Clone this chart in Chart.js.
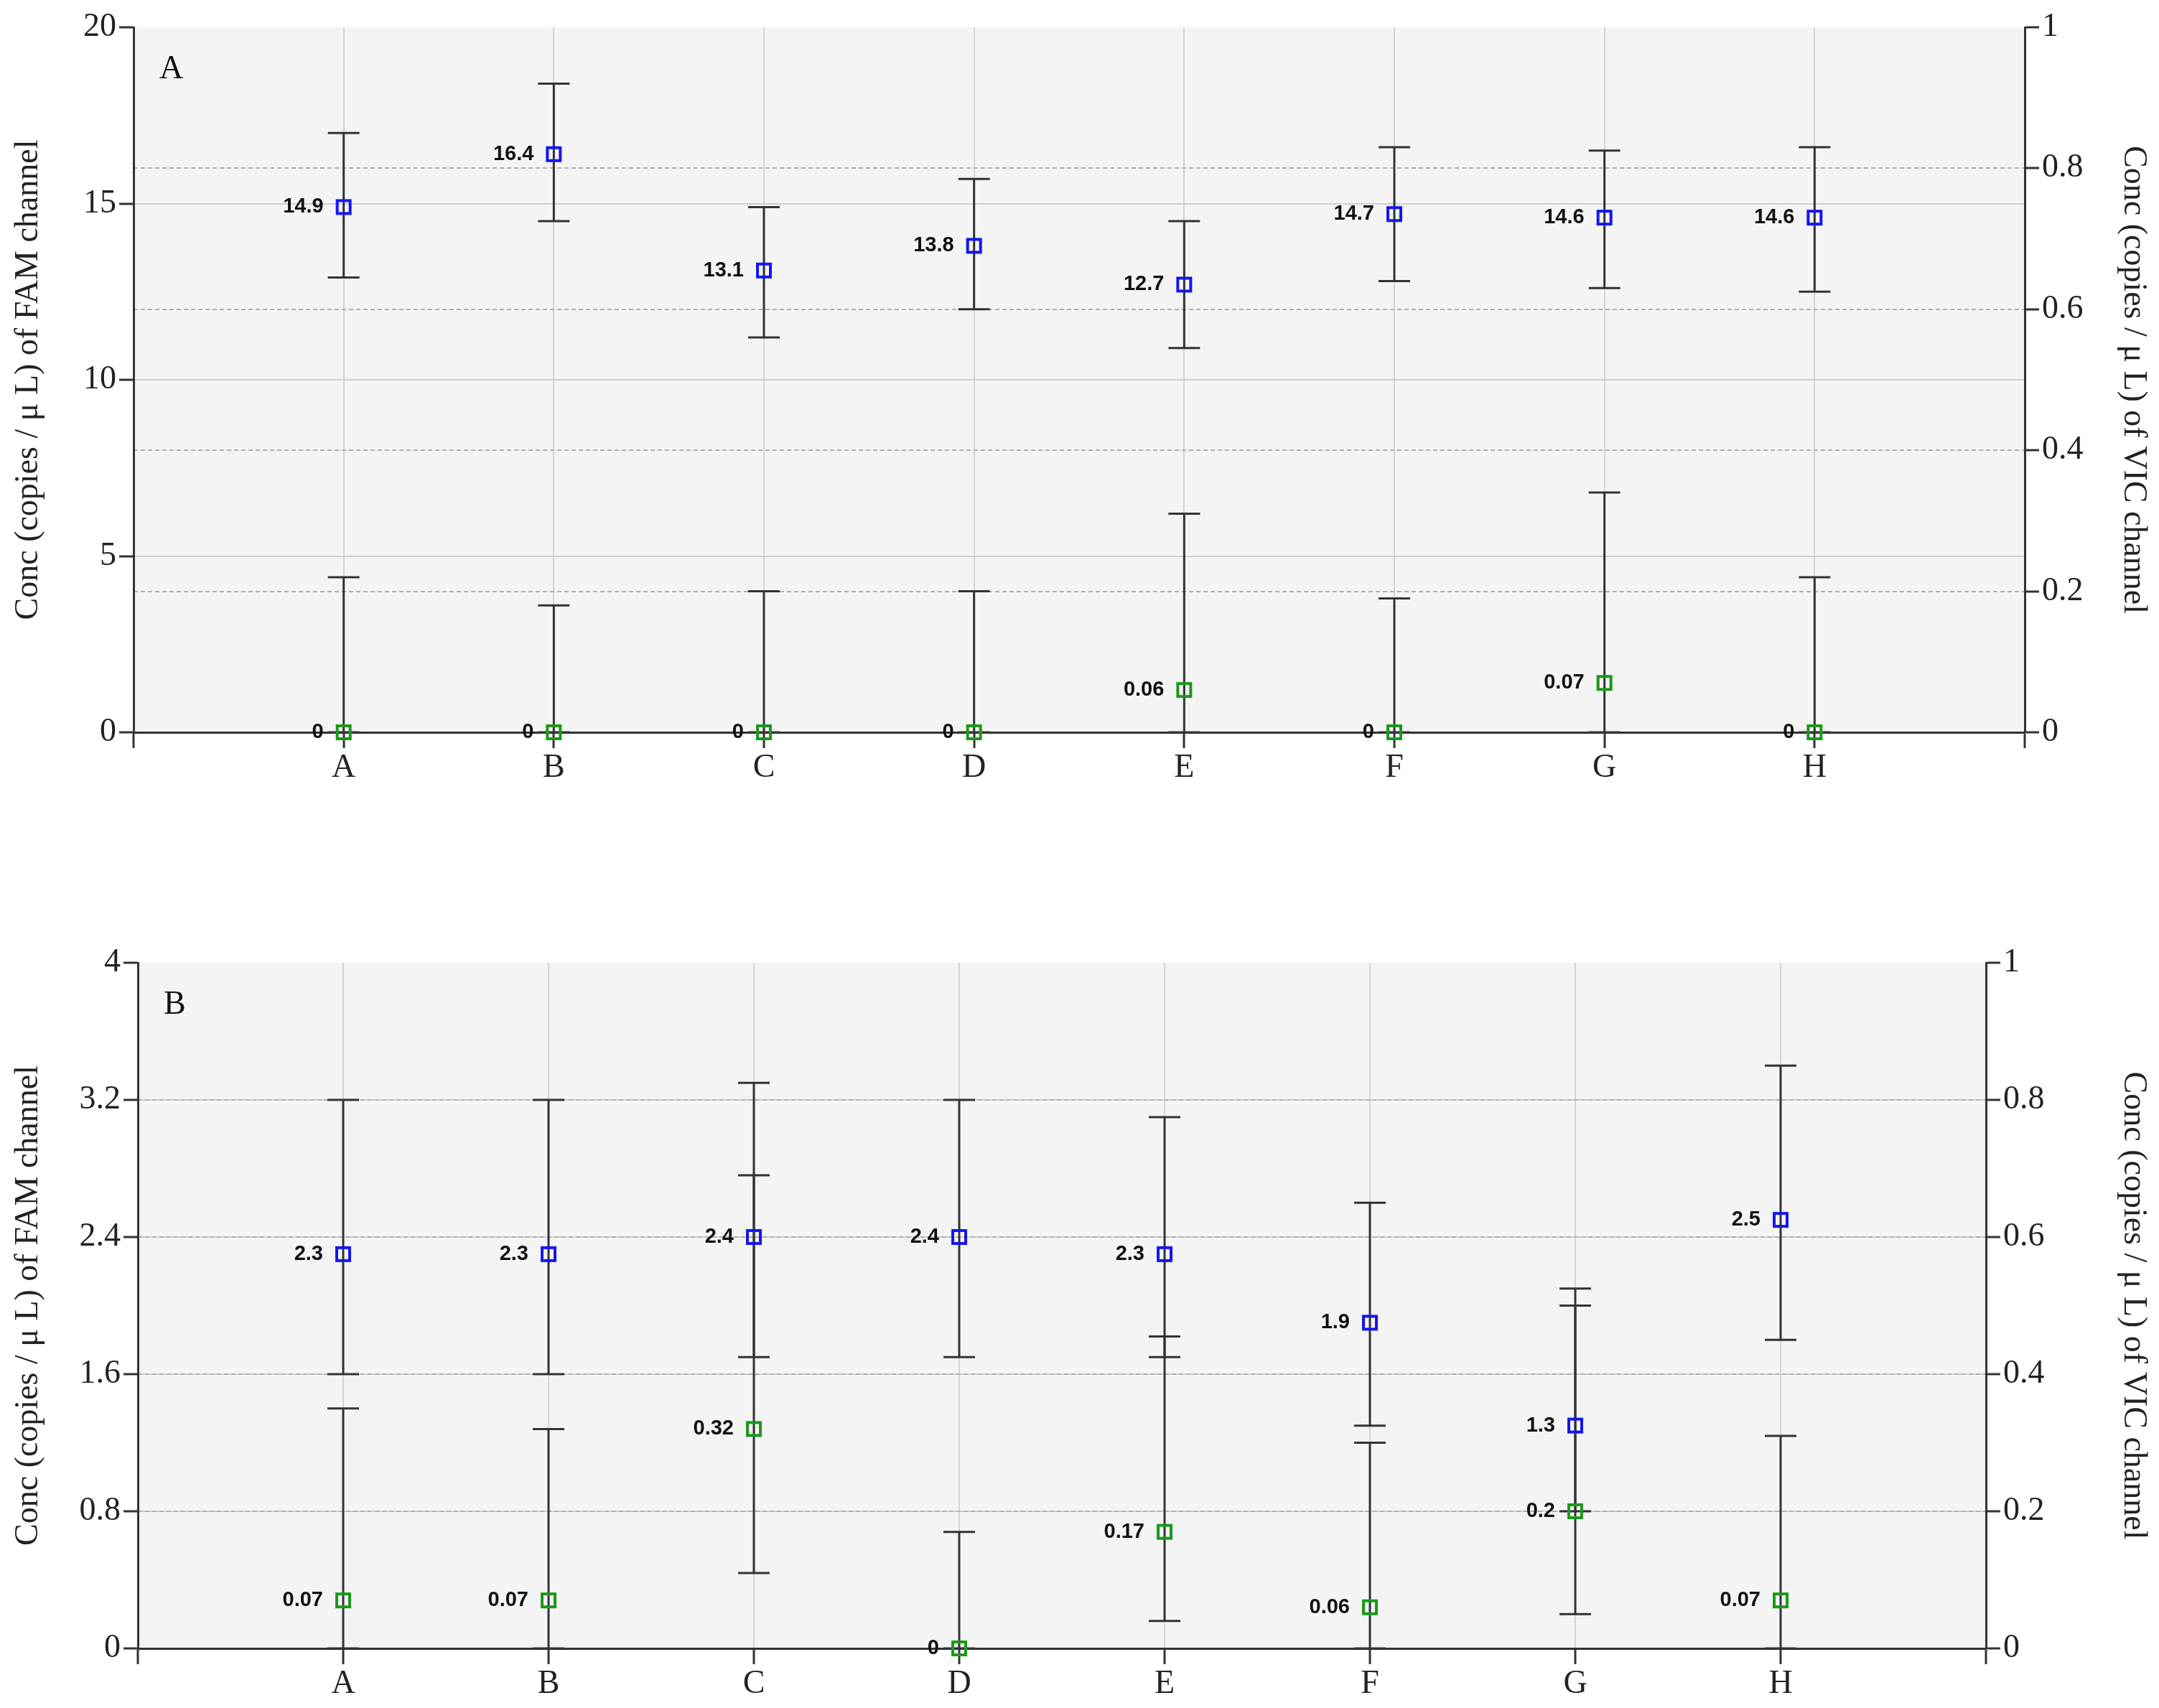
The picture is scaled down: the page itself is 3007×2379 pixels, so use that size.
<!DOCTYPE html>
<html>
<head>
<meta charset="utf-8">
<script src="https://cdn.jsdelivr.net/npm/chart.js@4.4.0/dist/chart.umd.min.js"></script>
<style>
  body { margin: 0; background: #fff; width: 3007px; height: 2379px; position: relative; overflow: hidden; }
  .wrap { position: absolute; left: 0; width: 3007px; }
</style>
</head>
<body>
<div class="wrap" style="top:0;height:1160px"><canvas id="chartA"></canvas></div>
<div class="wrap" style="top:1230px;height:1149px"><canvas id="chartB"></canvas></div>
<script>
// categories
const samples = ['A', 'B', 'C', 'D', 'E', 'F', 'G', 'H'];

// panel A - FAM (left axis)
const famA = [14.9, 16.4, 13.1, 13.8, 12.7, 14.7, 14.6, 14.6];
const famALow = [12.9, 14.5, 11.2, 12.0, 10.9, 12.8, 12.6, 12.5];
const famAHigh = [17.0, 18.4, 14.9, 15.7, 14.5, 16.6, 16.5, 16.6];
// panel A - VIC (right axis)
const vicA = [0, 0, 0, 0, 0.06, 0, 0.07, 0];
const vicALow = [0, 0, 0, 0, 0, 0, 0, 0];
const vicAHigh = [0.22, 0.18, 0.20, 0.20, 0.31, 0.19, 0.34, 0.22];

// panel B - FAM (left axis)
const famB = [2.3, 2.3, 2.4, 2.4, 2.3, 1.9, 1.3, 2.5];
const famBLow = [1.6, 1.6, 1.7, 1.7, 1.7, 1.3, 0.8, 1.8];
const famBHigh = [3.2, 3.2, 3.3, 3.2, 3.1, 2.6, 2.0, 3.4];
// panel B - VIC (right axis)
const vicB = [0.07, 0.07, 0.32, 0, 0.17, 0.06, 0.2, 0.07];
const vicBLow = [0, 0, 0.11, 0, 0.04, 0, 0.05, 0];
const vicBHigh = [0.35, 0.32, 0.69, 0.17, 0.455, 0.30, 0.525, 0.31];

const ticksA = [0, 5, 10, 15, 20];
const ticksB = [0, 0.8, 1.6, 2.4, 3.2, 4];
const ticksRight = [0, 0.2, 0.4, 0.6, 0.8, 1];

const serif = "'Liberation Serif', 'DejaVu Serif', serif";
const sans = "'Liberation Sans', Arial, sans-serif";

const plotBg = {
  id: 'plotBg',
  beforeDraw(chart) {
    const { ctx, chartArea: a } = chart;
    ctx.save();
    ctx.fillStyle = '#f4f4f4';
    ctx.fillRect(a.left, a.top, a.right - a.left, a.bottom - a.top);
    ctx.restore();
  }
};

const errorBars = {
  id: 'errorBars',
  afterDatasetsDraw(chart) {
    const { ctx } = chart;
    const x = chart.scales.x;
    ctx.save();
    chart.data.datasets.forEach(ds => {
      const y = chart.scales[ds.yAxisID];
      ds.data.forEach((p, i) => {
        const px = x.getPixelForValue(p.x);
        const top = y.getPixelForValue(ds.high[i]);
        const bot = y.getPixelForValue(ds.low[i]);
        ctx.strokeStyle = '#333';
        ctx.lineWidth = 3;
        ctx.beginPath();
        ctx.moveTo(px, top); ctx.lineTo(px, bot);
        ctx.moveTo(px - 22, top); ctx.lineTo(px + 22, top);
        ctx.moveTo(px - 22, bot); ctx.lineTo(px + 22, bot);
        ctx.stroke();
      });
    });
    // markers and value labels on top of the bars
    chart.data.datasets.forEach(ds => {
      const y = chart.scales[ds.yAxisID];
      ds.data.forEach((p, i) => {
        const px = x.getPixelForValue(p.x);
        const py = y.getPixelForValue(p.y);
        ctx.strokeStyle = ds.borderColor;
        ctx.lineWidth = 4;
        ctx.strokeRect(px - 9, py - 9, 18, 18);
        ctx.fillStyle = '#111';
        ctx.font = 'bold 29px ' + sans;
        ctx.textAlign = 'right';
        ctx.textBaseline = 'middle';
        ctx.fillText(String(p.y), px - 28, py);
      });
    });
    // panel letter
    const a = chart.chartArea;
    ctx.fillStyle = '#111';
    ctx.font = '46px ' + serif;
    ctx.textAlign = 'left';
    ctx.textBaseline = 'top';
    ctx.fillText(chart.options.panel, a.left + 36, a.top + 36);
    ctx.restore();
  }
};

function makeChart(id, panel, fam, famLow, famHigh, vic, vicLow, vicHigh, leftTicks, dims) {
  const pts = arr => arr.map((v, i) => ({ x: i + 1, y: v }));
  const leftMax = leftTicks[leftTicks.length - 1];
  return new Chart(document.getElementById(id), {
    type: 'scatter',
    data: {
      datasets: [
        { label: 'VIC', data: pts(vic), low: vicLow, high: vicHigh, yAxisID: 'y2',
          borderColor: '#1a9a1a', pointRadius: 0 },
        { label: 'FAM', data: pts(fam), low: famLow, high: famHigh, yAxisID: 'y',
          borderColor: '#1515f0', pointRadius: 0 }
      ]
    },
    plugins: [plotBg, errorBars],
    options: {
      panel: panel,
      responsive: true,
      maintainAspectRatio: false,
      animation: false,
      events: [],
      layout: { padding: { top: dims.top, left: 12, right: 8, bottom: 0 } },
      plugins: { legend: { display: false }, tooltip: { enabled: false } },
      scales: {
        x: {
          type: 'linear', min: 0, max: 9,
          afterBuildTicks: s => { s.ticks = [0,1,2,3,4,5,6,7,8,9].map(v => ({ value: v })); },
          afterFit: s => { s.height = dims.xh; },
          grid: {
            color: c => (c.tick && (c.tick.value === 0 || c.tick.value === 9)) ? 'rgba(0,0,0,0)' : '#d4d4d4',
            lineWidth: 2, tickColor: '#333', tickLength: 22, tickWidth: 3
          },
          border: { color: '#333', width: 3 },
          ticks: {
            color: '#222', font: { family: serif, size: 46 }, padding: 0, maxRotation: 0, autoSkip: false,
            callback: v => samples[v - 1] || ''
          }
        },
        y: {
          position: 'left', min: 0, max: leftMax,
          afterBuildTicks: s => { s.ticks = leftTicks.map(v => ({ value: v })); },
          afterFit: s => { s.width = dims.lw - 12; },
          grid: {
            color: c => (c.tick && (c.tick.value === 0 || c.tick.value === leftMax)) ? 'rgba(0,0,0,0)' : '#cfcfcf',
            lineWidth: 2, tickColor: '#333', tickLength: 20, tickWidth: 3
          },
          border: { color: '#333', width: 3 },
          ticks: { color: '#222', font: { family: serif, size: 46 }, padding: 4, callback: v => String(v) },
          title: { display: true, text: 'Conc (copies / \u03bc L) of FAM channel', color: '#222',
                   font: { family: serif, size: 46 }, padding: 0 }
        },
        y2: {
          position: 'right', min: 0, max: 1,
          afterBuildTicks: s => { s.ticks = ticksRight.map(v => ({ value: v })); },
          afterFit: s => { s.width = dims.rw - 8; },
          grid: {
            color: c => (c.tick && (c.tick.value === 0 || c.tick.value === 1)) ? 'rgba(0,0,0,0)' : '#b0b0b0',
            lineWidth: 2, tickColor: '#333', tickLength: 20, tickWidth: 3
          },
          border: { color: '#333', width: 3, dash: [6, 4] },
          ticks: { color: '#222', font: { family: serif, size: 46 }, padding: 4, callback: v => String(v) },
          title: { display: true, text: 'Conc (copies / \u03bc L) of VIC channel', color: '#222',
                   font: { family: serif, size: 46 }, padding: 0 }
        }
      }
    }
  });
}

makeChart('chartA', 'A', famA, famALow, famAHigh, vicA, vicALow, vicAHigh, ticksA,
  { top: 38, xh: 140, lw: 186, rw: 187 });
makeChart('chartB', 'B', famB, famBLow, famBHigh, vicB, vicBLow, vicBHigh, ticksB,
  { top: 111, xh: 83, lw: 192, rw: 241 });
</script>
</body>
</html>
